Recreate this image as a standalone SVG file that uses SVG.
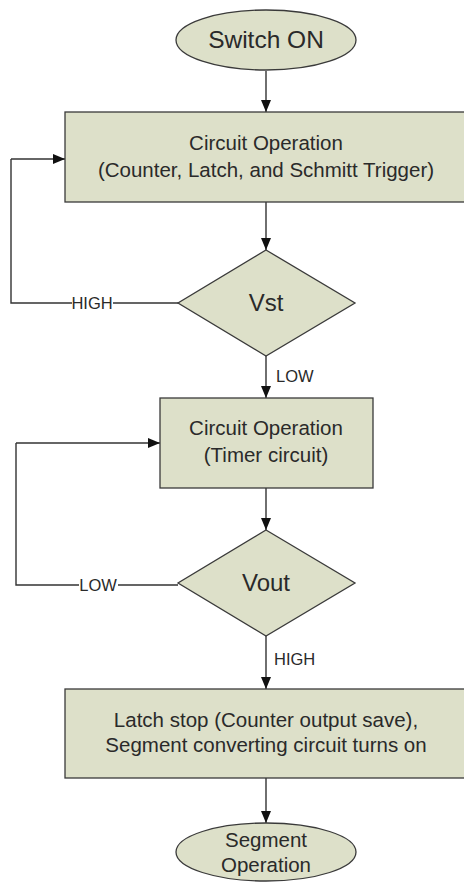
<svg xmlns="http://www.w3.org/2000/svg" width="464" height="882" viewBox="0 0 464 882">
<defs>
<marker id="ah" markerWidth="12" markerHeight="10" refX="12" refY="5" orient="auto" markerUnits="userSpaceOnUse">
<path d="M0,0 L12,5 L0,10 Z" fill="#111"/>
</marker>
<style>
.n{fill:#DDE0C9;stroke:#3a3a3a;stroke-width:1.3}
.t{font-family:"Liberation Sans",Arial,sans-serif;fill:#2a2a2a;text-anchor:middle}
.c{fill:none;stroke:#333;stroke-width:1.4}
.a{marker-end:url(#ah)}
.l{font-family:"Liberation Sans",Arial,sans-serif;fill:#2a2a2a;font-size:16.5px}
</style>
</defs>
<rect width="464" height="882" fill="#fff"/>
<g id="connectors">
<path class="c a" d="M266,71 V112"/>
<path class="c a" d="M266,202 V250"/>
<path class="c" d="M178,303 H113 M72,303 H11 V159"/>
<path class="c a" d="M11,159 H65"/>
<path class="c a" d="M266,356 V398"/>
<path class="c a" d="M266,488 V530"/>
<path class="c" d="M178,585 H118 M79,585 H16 V443"/>
<path class="c a" d="M16,443 H160"/>
<path class="c a" d="M266,636 V689"/>
<path class="c a" d="M266,778 V823"/>
<text class="l" x="92" y="309" text-anchor="middle">HIGH</text>
<text class="l" x="276" y="382">LOW</text>
<text class="l" x="98" y="591" text-anchor="middle">LOW</text>
<text class="l" x="274" y="665">HIGH</text>
</g>
<g id="start">
<ellipse class="n" cx="266" cy="40" rx="90" ry="30"/>
<text class="t" x="266" y="48" font-size="24.5">Switch ON</text>
</g>
<g id="op1">
<rect class="n" x="65" y="112" width="402" height="90"/>
<text class="t" x="266" y="150" font-size="20.5">Circuit Operation</text>
<text class="t" x="266" y="177" font-size="20.5">(Counter, Latch, and Schmitt Trigger)</text>
</g>
<g id="vst">
<polygon class="n" points="266,250 355,303 266,356 178,303"/>
<text class="t" x="266" y="311" font-size="24">Vst</text>
</g>
<g id="op2">
<rect class="n" x="160" y="398" width="213" height="90"/>
<text class="t" x="266" y="435" font-size="20.5">Circuit Operation</text>
<text class="t" x="266" y="462" font-size="20.5">(Timer circuit)</text>
</g>
<g id="vout">
<polygon class="n" points="266,530 355,583 266,636 178,583"/>
<text class="t" x="266" y="591" font-size="24">Vout</text>
</g>
<g id="latch">
<rect class="n" x="65" y="689" width="402" height="89"/>
<text class="t" x="266" y="727" font-size="20.5">Latch stop (Counter output save),</text>
<text class="t" x="266" y="752" font-size="20.5">Segment converting circuit turns on</text>
</g>
<g id="end">
<ellipse class="n" cx="266" cy="852" rx="90" ry="29"/>
<text class="t" x="266" y="847" font-size="20.5">Segment</text>
<text class="t" x="266" y="872" font-size="20.5">Operation</text>
</g>
</svg>
